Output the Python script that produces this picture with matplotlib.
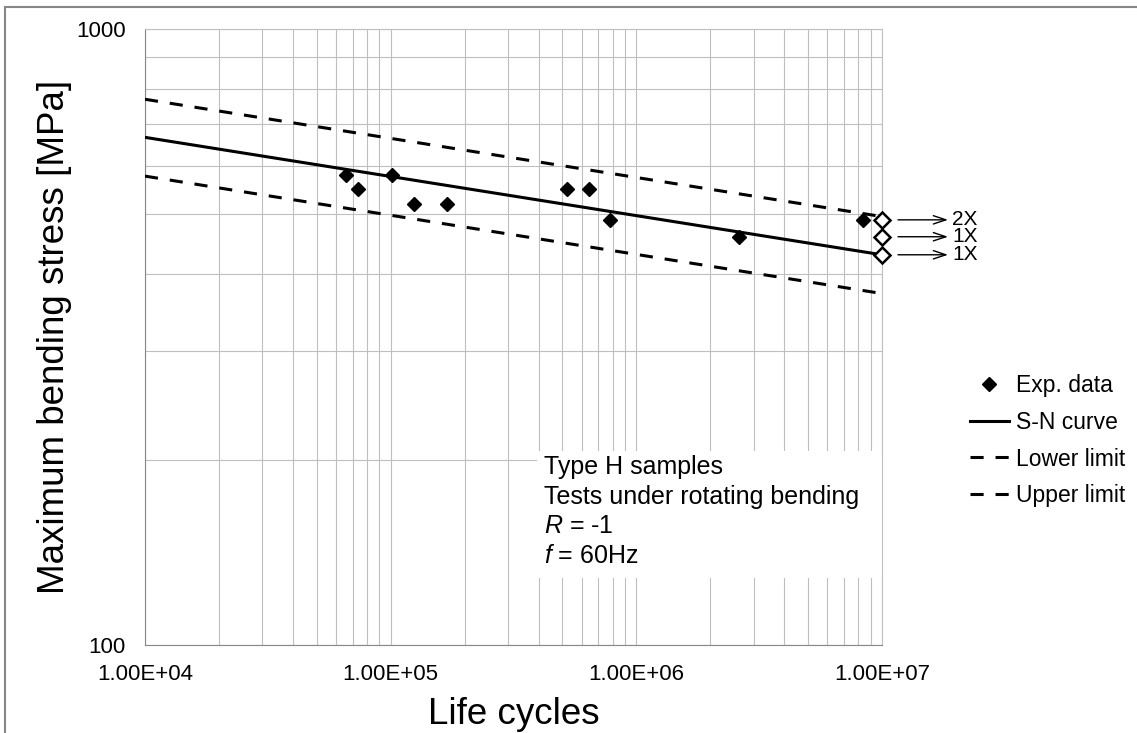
import matplotlib
matplotlib.use("Agg")
import matplotlib.pyplot as plt
import matplotlib.transforms as mtransforms
from matplotlib.lines import Line2D
from matplotlib.patches import Rectangle

plt.rcParams['font.family'] = ['Liberation Sans', 'DejaVu Sans']
plt.rcParams['mathtext.fontset'] = 'custom'
plt.rcParams['mathtext.rm'] = 'Liberation Sans'
plt.rcParams['mathtext.it'] = 'Liberation Sans:italic'

# experimental points (failures)
cycles = [6.58e4, 7.34e4, 1.01e5, 1.25e5, 1.69e5, 5.23e5, 6.40e5, 7.81e5, 2.62e6, 8.39e6]
stress = [580, 550, 580, 520, 520, 550, 550, 490, 460, 490]

# run-outs at 1e7
runout_cycles = [1e7, 1e7, 1e7]
runout_stress = [490, 460, 430]
runout_labels = ['2X', '1X', '1X']

# S-N curve and scatter band
curve_cycles = [1e4, 1e7]
sn_stress = [667, 430]
lower_stress = [577, 372]
upper_stress = [769, 496]

box_text = ['Type H samples', 'Tests under rotating bending', '$R$ = -1', '$f$ = 60Hz']

fig = plt.figure(figsize=(11.37, 7.33), dpi=100)
ax = fig.add_axes([145 / 1137, 1 - 645 / 733, 737 / 1137, 616 / 733])

ax.set_xscale('log')
ax.set_yscale('log')
ax.set_xlim(1e4, 1e7)
ax.set_ylim(100, 1000)

grid_c = '#bfbfbf'
ax.grid(True, which='both', color=grid_c, lw=0.8)
ax.set_axisbelow(True)
ax.tick_params(which='both', length=0, labelsize=16, pad=14)
ax.set_xticks([1e4, 1e5, 1e6, 1e7])
ax.set_xticklabels(['1.00E+04', '1.00E+05', '1.00E+06', '1.00E+07'])
ax.set_yticks([100, 1000])
ax.set_yticklabels(['100', '1000'])
ax.yaxis.set_minor_formatter(plt.NullFormatter())
ax.xaxis.set_minor_formatter(plt.NullFormatter())
for side in ['left', 'bottom']:
    ax.spines[side].set_color('#868686')
for side in ['top', 'right']:
    ax.spines[side].set_color(grid_c)

dash = (0, (4.3, 3.9))
ax.plot(curve_cycles, sn_stress, color='black', lw=2.2, zorder=3)
ax.plot(curve_cycles, lower_stress, color='black', lw=2.2, ls=dash, zorder=3)
ax.plot(curve_cycles, upper_stress, color='black', lw=2.2, ls=dash, zorder=3)

ax.plot(cycles, stress, ls='none', marker='D', ms=7, color='black', zorder=4)
ax.plot(runout_cycles, runout_stress, ls='none', marker='D', ms=8, mfc='white',
        mec='black', mew=1.8, zorder=5, clip_on=False)

# run-out arrows
trans = mtransforms.blended_transform_factory(ax.transAxes, ax.transData)
for s, lab in zip(runout_stress, runout_labels):
    ax.annotate('', xy=(1.0896, s), xytext=(1.0217, s), xycoords=trans, textcoords=trans,
                arrowprops=dict(arrowstyle='->,head_length=0.45,head_width=0.15',
                                lw=1, color='black', mutation_scale=20,
                                shrinkA=0, shrinkB=0),
                annotation_clip=False)
    ax.text(1.0955, s, lab, transform=trans, va='center', ha='left', fontsize=15)

# text box
ax.add_patch(Rectangle(((537 - 145) / 737, (645 - 578) / 616), (882 - 537) / 737, 127 / 616,
                       transform=ax.transAxes, facecolor='white', edgecolor='none', zorder=1))
ax.text((544 - 145) / 737, (645 - 455) / 616, '\n'.join(box_text), transform=ax.transAxes,
        ha='left', va='top', fontsize=18, linespacing=1.3, zorder=2)

ax.set_xlabel('Life cycles', fontsize=26.5, labelpad=8)
ax.set_ylabel('Maximum bending stress [MPa]', fontsize=26.5, labelpad=3)

handles = [
    Line2D([], [], ls='none', marker='D', ms=7, color='black'),
    Line2D([], [], color='black', lw=2.2),
    Line2D([], [], color='black', lw=2.2, ls=dash),
    Line2D([], [], color='black', lw=2.2, ls=dash),
]
labels = ['Exp. data', 'S-N curve', 'Lower limit', 'Upper limit']
fig.legend(handles, labels, loc='upper left', bbox_to_anchor=(970 / 1137, 1 - 374 / 733),
           frameon=False, fontsize=16.5, handlelength=1.7, handletextpad=0.3,
           labelspacing=0.6, borderpad=0, borderaxespad=0, numpoints=1)

fig.add_artist(Rectangle((5 / 1137, -0.1), 1.2, 1.1 - 7 / 733, transform=fig.transFigure,
                         fill=False, edgecolor='#868686', lw=1.5))

fig.savefig('out.png', dpi=100)
